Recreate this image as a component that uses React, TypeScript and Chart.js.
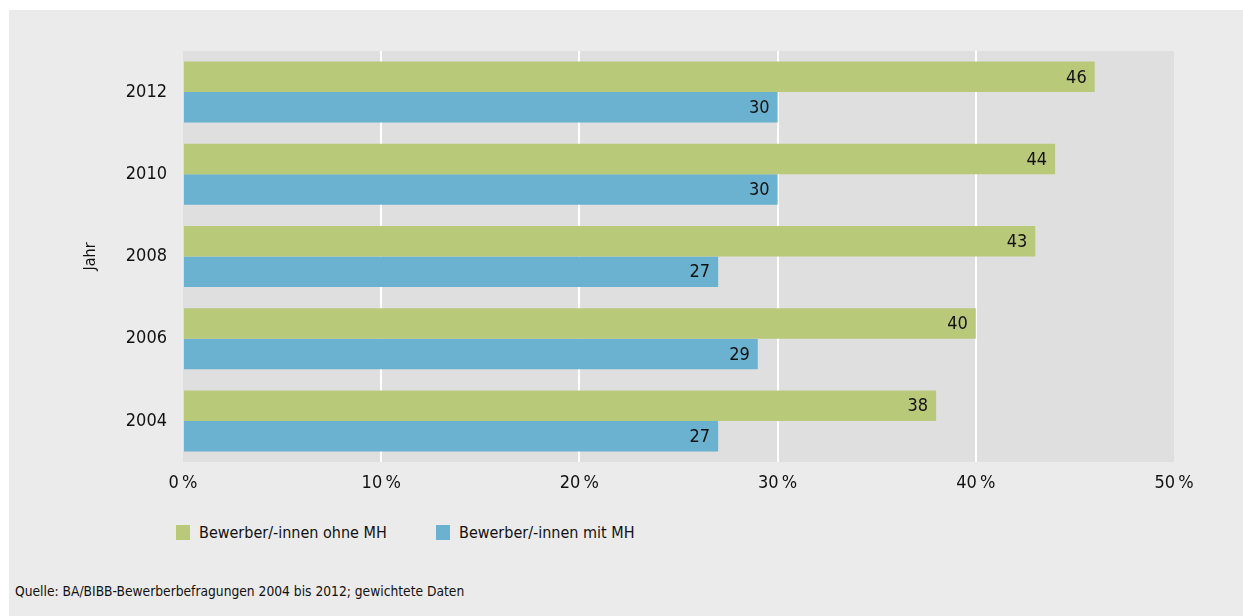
import React, { useEffect, useRef } from "react";
import { Chart, registerables } from "chart.js";

Chart.register(...registerables);

const categories = ["2012", "2010", "2008", "2006", "2004"];
const seriesOhneMH = [46, 44, 43, 40, 38];
const seriesMitMH = [30, 30, 27, 29, 27];
const seriesNames = ["Bewerber/-innen ohne MH", "Bewerber/-innen mit MH"];
const seriesColors = ["#b8c97a", "#6ab2d0"];
const xTicks = [0, 10, 20, 30, 40, 50];
const yAxisTitle = "Jahr";
const sourceNote = "Quelle: BA/BIBB-Bewerberbefragungen 2004 bis 2012; gewichtete Daten";

const FONT = "'Liberation Sans Narrow', 'DejaVu Sans Condensed', 'Open Sans', sans-serif";

const plotBg = {
  id: "plotBg",
  beforeDraw(chart: any) {
    const { ctx, chartArea } = chart;
    ctx.save();
    ctx.fillStyle = "#dfdfdf";
    ctx.fillRect(chartArea.left, chartArea.top, chartArea.right - chartArea.left, chartArea.bottom - chartArea.top);
    ctx.restore();
  },
};

const valueLabels = {
  id: "valueLabels",
  afterDatasetsDraw(chart: any) {
    const { ctx } = chart;
    ctx.save();
    ctx.font = `18px ${FONT}`;
    ctx.fillStyle = "#111111";
    ctx.textAlign = "right";
    ctx.textBaseline = "middle";
    chart.data.datasets.forEach((ds: any, di: number) => {
      const meta = chart.getDatasetMeta(di);
      meta.data.forEach((bar: any, i: number) => {
        ctx.fillText(String(ds.data[i]), bar.x - 8, bar.y + 1);
      });
    });
    ctx.restore();
  },
};

export default function App() {
  const ref = useRef<HTMLCanvasElement>(null);
  useEffect(() => {
    const chart = new Chart(ref.current!, {
      type: "bar",
      data: {
        labels: categories,
        datasets: [
          { label: seriesNames[0], data: seriesOhneMH, backgroundColor: seriesColors[0], categoryPercentage: 0.742, barPercentage: 1 },
          { label: seriesNames[1], data: seriesMitMH, backgroundColor: seriesColors[1], categoryPercentage: 0.742, barPercentage: 1 },
        ],
      },
      options: {
        indexAxis: "y",
        animation: false,
        responsive: false,
        devicePixelRatio: 1,
        layout: { padding: { left: 68, top: 41, right: 69, bottom: 0 } },
        plugins: { legend: { display: false }, tooltip: { enabled: false } },
        scales: {
          x: {
            min: 0,
            max: 50,
            afterBuildTicks(scale: any) {
              scale.ticks = xTicks.map((v) => ({ value: v }));
            },
            afterFit(scale: any) {
              scale.height = 48;
            },
            border: { display: false },
            grid: {
              drawTicks: false,
              lineWidth: 2,
              color: (c: any) => (c.tick && (c.tick.value === 0 || c.tick.value === 50) ? "rgba(0,0,0,0)" : "#ffffff"),
            },
            ticks: {
              padding: 11,
              color: "#111111",
              font: { family: FONT, size: 18 },
              callback: (v: any) => `${v}\u202f%`,
            },
          },
          y: {
            afterFit(scale: any) {
              scale.width = 106;
            },
            border: { display: false },
            grid: { display: false, drawTicks: false },
            ticks: {
              padding: 16,
              color: "#111111",
              font: { family: FONT, size: 18 },
            },
            title: {
              display: true,
              text: yAxisTitle,
              color: "#111111",
              font: { family: FONT, size: 16 },
              padding: { top: 4, bottom: 4 },
            },
          },
        },
      },
      plugins: [plotBg, valueLabels],
    });
    return () => chart.destroy();
  }, []);

  const textStyle: React.CSSProperties = { fontFamily: FONT, color: "#111111", whiteSpace: "nowrap" };

  return (
    <div style={{ position: "absolute", left: 9, top: 10, width: 1234, height: 606, background: "#ebebeb", overflow: "hidden" }}>
      <canvas ref={ref} width={1234} height={500} style={{ position: "absolute", left: 0, top: 0, width: 1234, height: 500 }} />
      {seriesNames.map((name, i) => (
        <div key={name} style={{ position: "absolute", left: i === 0 ? 167 : 427, top: 512, height: 20, display: "flex", alignItems: "center", ...textStyle, fontSize: 16 }}>
          <span style={{ display: "inline-block", width: 14, height: 15, background: seriesColors[i], marginRight: 9 }} />
          <span>{name}</span>
        </div>
      ))}
      <div style={{ position: "absolute", left: 6, top: 573, ...textStyle, fontSize: 13.7 }}>{sourceNote}</div>
    </div>
  );
}
